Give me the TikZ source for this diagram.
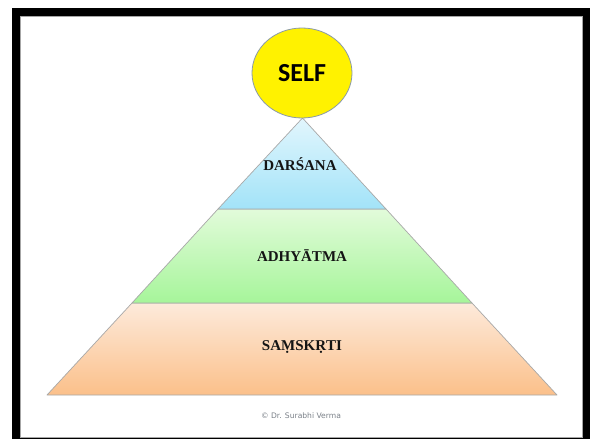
\documentclass[tikz,border=0pt]{standalone}
\usepackage{fontspec}
\setmainfont{Liberation Serif}
\newfontfamily\selffont{Carlito}
\newfontfamily\creditfont{DejaVu Sans}
\usetikzlibrary{shapes.geometric}
\definecolor{edgegray}{HTML}{A8A8A8}
\definecolor{blueTop}{HTML}{E2F6FD}
\definecolor{blueBot}{HTML}{A2E3F8}
\definecolor{greenTop}{HTML}{E2FBDA}
\definecolor{greenBot}{HTML}{A6F59A}
\definecolor{orangeTop}{HTML}{FDEADB}
\definecolor{orangeBot}{HTML}{FBC08A}
\definecolor{selfedge}{HTML}{8A9AA8}
\definecolor{labelink}{HTML}{141414}
\definecolor{creditgray}{HTML}{7A8088}
\tikzset{
  band/.style={draw=edgegray, line width=0.7pt, line join=round},
  layerlabel/.style={font=\fontsize{15}{18}\selectfont\bfseries, text=labelink, inner sep=0pt},
}
\begin{document}
\begin{tikzpicture}[x=1pt,y=-1pt]
\useasboundingbox (0,0) rectangle (590,439);
\fill[white] (0,0) rectangle (590,439);
% frame
\fill[black] (12,8) rectangle (590,439);
\fill[white] (20,16) rectangle (582,437);
\draw[gray!70, line width=0.6pt] (20,16) rectangle (582,437);
% pyramid bands
\shade[top color=orangeTop, bottom color=orangeBot] (132,303) -- (472,303) -- (557,395) -- (47,395) -- cycle;
\draw[band] (132,303) -- (472,303) -- (557,395) -- (47,395) -- cycle;
\shade[top color=greenTop, bottom color=greenBot] (218,209) -- (386,209) -- (472,303) -- (132,303) -- cycle;
\draw[band] (218,209) -- (386,209) -- (472,303) -- (132,303) -- cycle;
\shade[top color=blueTop, bottom color=blueBot] (302.5,118) -- (386,209) -- (218,209) -- cycle;
\draw[band] (302.5,118) -- (386,209) -- (218,209) -- cycle;
% self
\node[ellipse, draw=selfedge, line width=0.8pt, fill=yellow, minimum width=100pt, minimum height=90pt, inner sep=0pt,
      font=\selffont\fontsize{26}{30}\selectfont\bfseries] (self) at (302,73) {SELF};
% labels
\node[layerlabel] (darsana) at (300,164) {DARŚANA};
\node[layerlabel] (adhyatma) at (302,256) {ADHYĀTMA};
\node[layerlabel] (samskrti) at (302,347) {SAṂSKṚTI};
\node[font=\creditfont\fontsize{7.6}{9}\selectfont, text=creditgray, inner sep=0pt] (credit) at (301,416) {© Dr. Surabhi Verma};
\end{tikzpicture}
\end{document}
